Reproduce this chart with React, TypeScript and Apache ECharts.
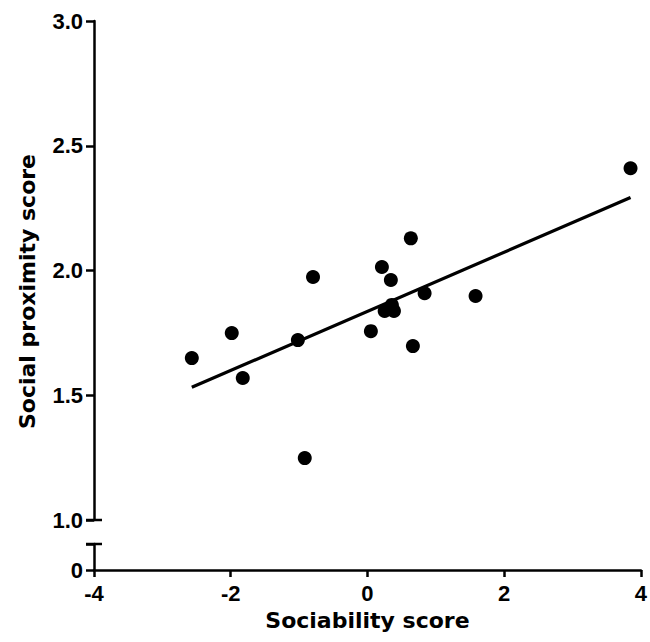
import React, { useEffect, useRef } from "react";
import * as echarts from "echarts";

const sociability = [-2.58, -2.0, -1.84, -1.04, -0.82, -0.94, 0.02, 0.18, 0.31, 0.22, 0.325, 0.355, 0.6, 0.63, 0.8, 1.54, 3.79];
const proximity = [1.649, 1.749, 1.569, 1.721, 1.974, 1.248, 1.757, 2.014, 1.962, 1.838, 1.862, 1.838, 2.129, 1.697, 1.909, 1.898, 2.41];
const xTicks = [-4, -2, 0, 2, 4];
const yUpperTicks = [1.0, 1.5, 2.0, 2.5, 3.0];
const yLowerTicks = [0];

const xTitle = "Sociability score";
const yTitle = "Social proximity score";

function regression(xs: number[], ys: number[]) {
  const n = xs.length;
  const mx = xs.reduce((a, b) => a + b, 0) / n;
  const my = ys.reduce((a, b) => a + b, 0) / n;
  let sxy = 0;
  let sxx = 0;
  for (let i = 0; i < n; i++) {
    sxy += (xs[i] - mx) * (ys[i] - my);
    sxx += (xs[i] - mx) * (xs[i] - mx);
  }
  const b = sxy / sxx;
  const a = my - b * mx;
  return { a, b };
}

export default function App() {
  const ref = useRef<HTMLDivElement>(null);
  useEffect(() => {
    document.body.style.margin = "0";
    if (!ref.current) return;
    const chart = echarts.init(ref.current, undefined, { renderer: "svg" });
    const { a, b } = regression(sociability, proximity);
    const xmin = Math.min(...sociability);
    const xmax = Math.max(...sociability);
    const fitLine = [
      [xmin, a + b * xmin],
      [xmax, a + b * xmax],
    ];
    const labelFont = {
      fontFamily: "Liberation Sans",
      fontWeight: "bold" as const,
      fontSize: 22,
      color: "#000",
    };
    const titleFont = { fontFamily: "DejaVu Sans", fontWeight: "bold" as const, fontSize: 22 };
    const axisLine = { show: true, onZero: false, lineStyle: { color: "#000", width: 2.5 } };
    const xMin = xTicks[0];
    const xMax = xTicks[xTicks.length - 1];
    const lowerMax = 0.104;

    chart.setOption({
      animation: false,
      backgroundColor: "#fff",
      grid: [
        { left: 94, top: 21, width: 551, height: 499 },
        { left: 94, top: 544, width: 551, height: 26 },
      ],
      xAxis: [
        {
          gridIndex: 0,
          type: "value",
          min: xMin,
          max: xMax,
          show: false,
        },
        {
          gridIndex: 1,
          type: "value",
          min: xMin,
          max: xMax,
          interval: 2,
          axisLine,
          axisTick: { show: true, length: 7, lineStyle: { color: "#000", width: 2.5 } },
          splitLine: { show: false },
          axisLabel: { ...labelFont, margin: 12, formatter: (v: number) => (xTicks.includes(v) ? String(v) : "") },
          name: xTitle,
          nameLocation: "middle",
          nameGap: 39,
          nameTextStyle: { ...titleFont, color: "#000" },
        },
      ],
      yAxis: [
        {
          gridIndex: 0,
          type: "value",
          min: 1,
          max: 3,
          interval: 0.5,
          axisLine,
          axisTick: { show: true, length: 8, lineStyle: { color: "#000", width: 2.5 } },
          splitLine: { show: false },
          axisLabel: {
            ...labelFont,
            margin: 11,
            formatter: (v: number) => (yUpperTicks.some((t) => Math.abs(t - v) < 1e-9) ? v.toFixed(1) : ""),
          },
        },
        {
          gridIndex: 1,
          type: "value",
          min: 0,
          max: lowerMax,
          interval: lowerMax,
          axisLine,
          axisTick: { show: true, length: 8, lineStyle: { color: "#000", width: 2.5 } },
          splitLine: { show: false },
          axisLabel: {
            ...labelFont,
            margin: 11,
            formatter: (v: number) => (yLowerTicks.includes(v) ? String(v) : ""),
          },
        },
      ],
      series: [
        {
          type: "line",
          xAxisIndex: 0,
          yAxisIndex: 0,
          data: fitLine,
          symbol: "none",
          lineStyle: { color: "#000", width: 3.2 },
          z: 2,
        },
        {
          type: "scatter",
          xAxisIndex: 0,
          yAxisIndex: 0,
          data: sociability.map((x, i) => [x, proximity[i]]),
          symbol: "circle",
          symbolSize: 14,
          itemStyle: { color: "#000", opacity: 1 },
          z: 3,
        },
      ],
    });

    // axis-break caps
    const upperBottom = chart.convertToPixel({ gridIndex: 0 }, [xMin, 1]) as number[];
    const lowerTop = chart.convertToPixel({ gridIndex: 1 }, [xMin, lowerMax]) as number[];
    const lowerBase = chart.convertToPixel({ gridIndex: 1 }, [xMin, 0]) as number[];
    const titleY = (chart.convertToPixel({ gridIndex: 0 }, [xMin, 3]) as number[])[1];
    const capStyle = { stroke: "#000", lineWidth: 2.5 };
    chart.setOption({
      graphic: [
        {
          type: "line",
          shape: { x1: upperBottom[0] - 8, y1: upperBottom[1], x2: upperBottom[0] + 8, y2: upperBottom[1] },
          style: capStyle,
        },
        {
          type: "line",
          shape: { x1: lowerTop[0] - 8, y1: lowerTop[1], x2: lowerTop[0] + 8, y2: lowerTop[1] },
          style: capStyle,
        },
        {
          type: "text",
          x: 27,
          y: (titleY + lowerBase[1]) / 2 - 4,
          rotation: Math.PI / 2,
          style: {
            text: yTitle,
            ...titleFont,
            fill: "#000",
            align: "center",
            verticalAlign: "middle",
          },
        },
      ],
    });

    return () => chart.dispose();
  }, []);
  return <div ref={ref} style={{ width: 650, height: 642 }} />;
}
